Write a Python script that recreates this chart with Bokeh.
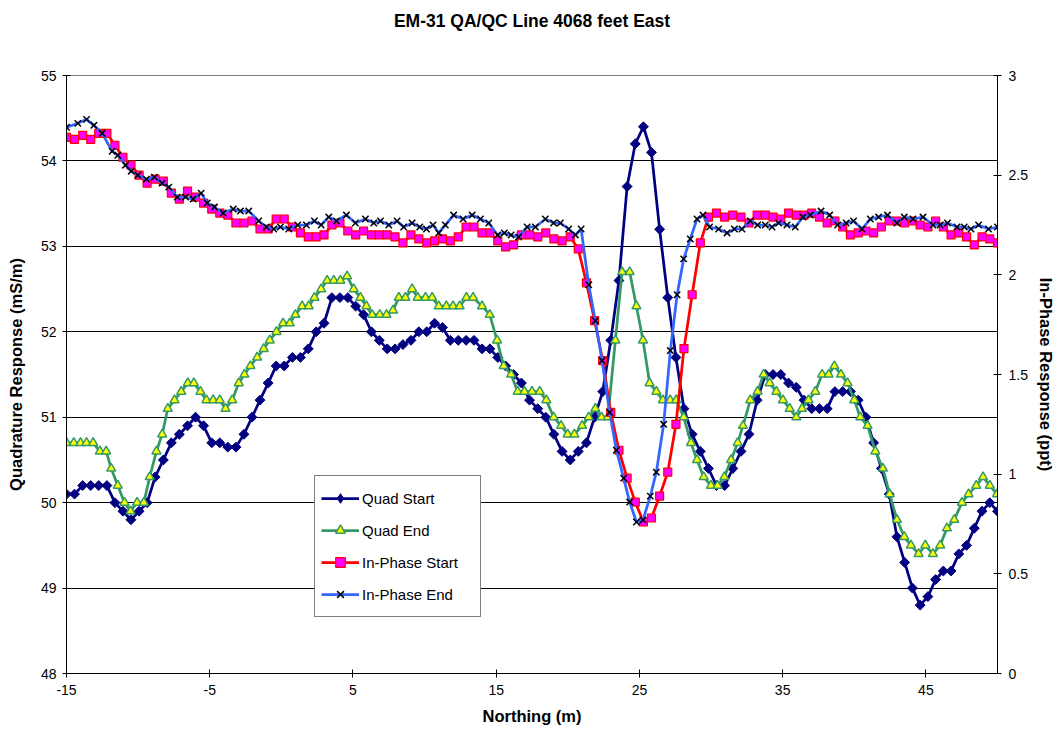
from bokeh.plotting import figure
from bokeh.models import (Range1d, LinearAxis, FixedTicker, NumeralTickFormatter,
                          Legend, LegendItem, Title)
from bokeh.embed import file_html
from bokeh.resources import INLINE
import math

# ---------------- data ----------------
x_start = [-15.00, -14.44, -13.87, -13.31, -12.75, -12.18, -11.62, -11.06, -10.50, -9.93,
           -9.37, -8.81, -8.24, -7.68, -7.12, -6.55, -5.99, -5.43, -4.86, -4.30,
           -3.74, -3.17, -2.61, -2.05, -1.49, -0.92, -0.36, 0.20, 0.77, 1.33,
           1.88, 2.43, 2.98, 3.53, 4.09, 4.64, 5.19, 5.74, 6.29, 6.84,
           7.39, 7.94, 8.49, 9.05, 9.60, 10.15, 10.70, 11.25, 11.80, 12.35,
           12.90, 13.45, 14.01, 14.56, 15.11, 15.66, 16.21, 16.76, 17.33, 17.90,
           18.46, 19.03, 19.60, 20.17, 20.73, 21.30, 21.87, 22.44, 23.00, 23.57,
           24.14, 24.71, 25.28, 25.84, 26.41, 26.98, 27.55, 28.11, 28.68, 29.25,
           29.82, 30.38, 30.95, 31.52, 32.09, 32.65, 33.22, 33.79, 34.33, 34.87,
           35.41, 35.95, 36.49, 37.03, 37.57, 38.11, 38.65, 39.19, 39.73, 40.27,
           40.81, 41.35, 41.89, 42.44, 42.98, 43.52, 44.06, 44.60, 45.14, 45.68,
           46.22, 46.76, 47.30, 47.84, 48.38, 48.92, 49.46, 50.00]

quad_start = [50.1, 50.1, 50.2, 50.2, 50.2, 50.2, 50.0, 49.9, 49.8, 49.9,
              50.0, 50.3, 50.5, 50.7, 50.8, 50.9, 51.0, 50.9, 50.7, 50.7,
              50.65, 50.65, 50.8, 51.0, 51.2, 51.4, 51.6, 51.6, 51.7, 51.7,
              51.8, 52.0, 52.1, 52.4, 52.4, 52.4, 52.3, 52.2, 52.0, 51.9,
              51.8, 51.8, 51.85, 51.9, 52.0, 52.0, 52.1, 52.05, 51.9, 51.9,
              51.9, 51.9, 51.8, 51.8, 51.7, 51.6, 51.5, 51.4, 51.2, 51.1,
              51.0, 50.8, 50.6, 50.5, 50.6, 50.7, 51.0, 51.3, 51.9, 52.6,
              53.7, 54.2, 54.4, 54.1, 53.2, 52.4, 51.7, 51.1, 50.8, 50.6,
              50.4, 50.2, 50.2, 50.4, 50.6, 50.8, 51.2, 51.5, 51.5, 51.5,
              51.4, 51.35, 51.2, 51.1, 51.1, 51.1, 51.3, 51.3, 51.3, 51.2,
              51.0, 50.7, 50.4, 50.1, 49.6, 49.3, 49.0, 48.8, 48.9, 49.1,
              49.2, 49.2, 49.4, 49.5, 49.7, 49.9, 50.0, 49.9]

in_phase_start = [2.69, 2.68, 2.70, 2.68, 2.71, 2.71, 2.65, 2.59, 2.55, 2.50,
                  2.46, 2.48, 2.47, 2.41, 2.38, 2.42, 2.39, 2.36, 2.33, 2.31,
                  2.30, 2.26, 2.26, 2.27, 2.23, 2.23, 2.28, 2.28, 2.24, 2.21,
                  2.19, 2.19, 2.20, 2.25, 2.26, 2.22, 2.20, 2.22, 2.20, 2.20,
                  2.20, 2.19, 2.16, 2.20, 2.18, 2.16, 2.17, 2.18, 2.17, 2.19,
                  2.24, 2.24, 2.21, 2.21, 2.17, 2.14, 2.15, 2.20, 2.20, 2.19,
                  2.21, 2.18, 2.17, 2.19, 2.13, 1.96, 1.77, 1.57, 1.31, 1.12,
                  0.98, 0.86, 0.76, 0.78, 0.89, 1.01, 1.25, 1.63, 1.90, 2.16,
                  2.29, 2.31, 2.29, 2.30, 2.29, 2.26, 2.30, 2.30, 2.29, 2.28,
                  2.31, 2.30, 2.30, 2.31, 2.29, 2.26, 2.27, 2.24, 2.20, 2.21,
                  2.22, 2.21, 2.24, 2.27, 2.27, 2.26, 2.27, 2.25, 2.24, 2.27,
                  2.24, 2.20, 2.21, 2.19, 2.15, 2.19, 2.18, 2.16]

x_quad_end = [-15.00, -14.49, -14.02, -13.60, -13.14, -12.67, -12.23, -11.88, -11.42, -10.95,
              -10.53, -10.07, -9.60, -9.19, -8.72, -8.32, -7.93, -7.46, -6.99, -6.53,
              -6.11, -5.65, -5.23, -4.76, -4.30, -3.90, -3.43, -2.97, -2.58, -2.16,
              -1.69, -1.23, -0.81, -0.34, 0.12, 0.59, 0.98, 1.45, 1.91, 2.31,
              2.78, 3.20, 3.66, 4.12, 4.59, 5.05, 5.52, 5.94, 6.34, 6.87,
              7.34, 7.80, 8.20, 8.66, 9.13, 9.52, 10.06, 10.53, 10.99, 11.52,
              11.99, 12.45, 12.92, 13.39, 14.01, 14.55, 15.06, 15.52, 16.04, 16.50,
              16.97, 17.50, 18.04, 18.50, 19.01, 19.53, 19.99, 20.46, 21.00, 21.46,
              21.92, 22.35, 22.80, 23.32, 23.79, 24.32, 24.79, 25.25, 25.71, 26.18,
              26.64, 27.15, 27.57, 28.09, 28.60, 29.02, 29.49, 30.00, 30.46, 30.93,
              31.40, 31.86, 32.23, 32.74, 33.25, 33.67, 34.09, 34.56, 35.02, 35.49,
              35.95, 36.35, 36.81, 37.28, 37.75, 38.21, 38.61, 39.07, 39.53, 40.00,
              40.42, 40.93, 41.47, 42.00, 42.47, 42.98, 43.49, 43.96, 44.49, 44.96,
              45.49, 46.00, 46.47, 46.98, 47.52, 47.98, 48.52, 48.99, 49.46, 49.97]

quad_end = [50.7, 50.7, 50.7, 50.7, 50.7, 50.6, 50.6, 50.4, 50.2, 50.0,
            49.9, 50.0, 50.0, 50.3, 50.6, 50.8, 51.1, 51.2, 51.3, 51.4,
            51.4, 51.3, 51.2, 51.2, 51.2, 51.1, 51.2, 51.4, 51.5, 51.6,
            51.7, 51.8, 51.9, 52.0, 52.1, 52.1, 52.2, 52.3, 52.3, 52.4,
            52.5, 52.6, 52.6, 52.6, 52.65, 52.5, 52.4, 52.3, 52.2, 52.2,
            52.2, 52.25, 52.4, 52.4, 52.5, 52.4, 52.4, 52.4, 52.3, 52.3,
            52.3, 52.3, 52.4, 52.4, 52.3, 52.2, 51.9, 51.6, 51.5, 51.3,
            51.3, 51.3, 51.3, 51.2, 51.0, 50.9, 50.8, 50.8, 50.9, 51.0,
            51.1, 51.0, 51.0, 51.9, 52.7, 52.7, 52.3, 51.9, 51.4, 51.3,
            51.2, 51.2, 51.2, 51.0, 50.7, 50.5, 50.3, 50.2, 50.2, 50.3,
            50.5, 50.7, 50.9, 51.2, 51.3, 51.5, 51.4, 51.3, 51.2, 51.1,
            51.0, 51.1, 51.2, 51.3, 51.5, 51.5, 51.6, 51.5, 51.4, 51.2,
            51.0, 50.9, 50.6, 50.4, 50.1, 49.8, 49.6, 49.5, 49.4, 49.5,
            49.4, 49.5, 49.7, 49.8, 50.0, 50.1, 50.2, 50.3, 50.2, 50.1]

x_ip_end = [-15.00, -14.21, -13.60, -13.09, -12.51, -11.81, -11.42, -10.88, -10.48, -10.02,
            -9.42, -8.86, -8.32, -7.86, -7.27, -6.69, -6.16, -5.60, -5.18, -4.67,
            -4.06, -3.36, -2.86, -2.28, -1.58, -1.04, -0.53, -0.06, 0.52, 1.14,
            1.75, 2.31, 2.78, 3.31, 3.85, 4.54, 5.17, 5.87, 6.45, 6.92,
            7.50, 8.08, 8.54, 9.13, 9.66, 10.13, 10.59, 10.99, 11.45, 12.03,
            12.69, 13.32, 13.90, 14.48, 15.10, 15.57, 16.04, 16.57, 17.16, 17.74,
            18.43, 19.01, 19.48, 20.06, 20.53, 20.93, 21.46, 21.92, 22.39, 22.92,
            23.39, 23.90, 24.32, 24.79, 25.25, 25.76, 26.18, 26.69, 27.16, 27.63,
            28.09, 28.55, 29.02, 29.44, 29.90, 30.53, 31.12, 31.63, 32.16, 32.74,
            33.25, 33.79, 34.26, 34.72, 35.30, 35.88, 36.42, 36.93, 37.68, 38.28,
            38.84, 39.44, 39.95, 40.54, 41.12, 41.70, 42.32, 42.98, 43.49, 44.10,
            44.80, 45.49, 46.00, 46.51, 47.17, 47.68, 48.15, 48.68, 49.37, 50.00]

in_phase_end = [2.74, 2.76, 2.78, 2.75, 2.71, 2.62, 2.60, 2.55, 2.52, 2.50,
                2.48, 2.49, 2.46, 2.44, 2.39, 2.39, 2.38, 2.41, 2.36, 2.34,
                2.31, 2.33, 2.32, 2.32, 2.27, 2.24, 2.23, 2.24, 2.23, 2.25,
                2.25, 2.27, 2.25, 2.29, 2.27, 2.30, 2.26, 2.28, 2.26, 2.27,
                2.25, 2.27, 2.24, 2.26, 2.24, 2.23, 2.25, 2.21, 2.25, 2.30,
                2.28, 2.30, 2.28, 2.26, 2.20, 2.21, 2.20, 2.19, 2.24, 2.24,
                2.28, 2.26, 2.26, 2.23, 2.20, 2.23, 1.95, 1.77, 1.57, 1.31,
                1.12, 0.98, 0.86, 0.76, 0.77, 0.89, 1.01, 1.25, 1.62, 1.90,
                2.08, 2.18, 2.28, 2.30, 2.24, 2.23, 2.21, 2.23, 2.23, 2.27,
                2.25, 2.25, 2.24, 2.26, 2.25, 2.24, 2.29, 2.30, 2.32, 2.30,
                2.25, 2.26, 2.27, 2.23, 2.28, 2.29, 2.30, 2.26, 2.29, 2.28,
                2.29, 2.25, 2.25, 2.26, 2.24, 2.24, 2.23, 2.25, 2.23, 2.24]

x_ticks = [-15, -5, 5, 15, 25, 35, 45]
left_ticks = [48, 49, 50, 51, 52, 53, 54, 55]
right_ticks = [0, 0.5, 1, 1.5, 2, 2.5, 3]

TITLE = "EM-31 QA/QC Line 4068 feet East"
FONT = "Liberation Sans"

# ---------------- figure ----------------
FW, FH = 931, 598
p = figure(frame_width=FW, frame_height=FH, title=None,
           min_border_left=66, min_border_right=60, min_border_top=75, min_border_bottom=59,
           x_range=Range1d(-15, 50), y_range=Range1d(48, 55),
           output_backend="svg", toolbar_location=None)
p.background_fill_color = "white"
p.border_fill_color = "white"
p.outline_line_color = "#808080"

# spacer title (closest to the frame), then the real title above it
p.add_layout(Title(text=" ", text_font=FONT, text_font_size="34px", standoff=0), "above")
p.add_layout(Title(text=TITLE, align="center", text_font=FONT, text_font_size="17.5px",
                   text_font_style="bold", text_color="black", standoff=10), "above")

p.extra_y_ranges = {"ip": Range1d(0, 3)}
right_axis = LinearAxis(y_range_name="ip", ticker=FixedTicker(ticks=right_ticks),
                        formatter=NumeralTickFormatter(format="0.[0]"),
                        axis_label="In-Phase Response (ppt)")
p.add_layout(right_axis, "right")

p.xaxis.ticker = FixedTicker(ticks=x_ticks)
p.xaxis.major_label_overrides = {t: str(t) for t in x_ticks}
p.xaxis.axis_label = "Northing (m)"
p.yaxis[0].ticker = FixedTicker(ticks=left_ticks)
p.yaxis[0].axis_label = "Quadrature Response (mS/m)"

for ax in [p.xaxis[0], p.yaxis[0], right_axis]:
    ax.axis_line_color = "black"
    ax.axis_line_width = 1
    ax.major_tick_line_color = "black"
    ax.major_tick_in = 4
    ax.major_tick_out = 4
    ax.minor_tick_line_color = None
    ax.major_label_text_font = FONT
    ax.major_label_text_font_size = "14px"
    ax.major_label_text_color = "black"
    ax.axis_label_text_font = FONT
    ax.axis_label_text_font_size = "16.5px"
    ax.axis_label_text_font_style = "bold"
    ax.axis_label_text_color = "black"
    ax.major_label_standoff = 6

p.xaxis.major_label_standoff = 7
p.xaxis.axis_label_standoff = 9
p.yaxis[0].axis_label_standoff = 13
right_axis.major_label_standoff = 7
right_axis.axis_label_standoff = 6

p.xgrid.visible = False
p.ygrid.ticker = FixedTicker(ticks=[49, 50, 51, 52, 53, 54])
p.ygrid.grid_line_color = "black"
p.ygrid.grid_line_width = 1

# ---------------- series ----------------
LW = 2.75
l1 = p.line(x_start, quad_start, line_color="#000080", line_width=LW)
s1 = p.scatter(x_start, quad_start, marker="square", angle=math.pi / 4, size=7,
               fill_color="#000080", line_color="#000080")
# legend key for Quad Start: a small diamond hidden under the first rotated square
s1_key = p.scatter(x_start[:1], quad_start[:1], marker="diamond", size=6,
                   fill_color="#000080", line_color="#000080")

l2 = p.line(x_quad_end, quad_end, line_color="#339966", line_width=LW)
s2 = p.scatter(x_quad_end, quad_end, marker="triangle", size=9,
               fill_color="#FFFF00", line_color="#339966", line_width=1.5)

l3 = p.line(x_start, in_phase_start, line_color="#FF0000", line_width=LW, y_range_name="ip")
s3 = p.scatter(x_start, in_phase_start, marker="square", size=8, y_range_name="ip",
               fill_color="#FF00FF", line_color="#FF0000", line_width=1.2)

l4 = p.line(x_ip_end, in_phase_end, line_color="#3366FF", line_width=LW, y_range_name="ip")
s4 = p.scatter(x_ip_end, in_phase_end, marker="x", size=9, y_range_name="ip",
               line_color="black", line_width=1.5)

lg = Legend(items=[LegendItem(label="Quad Start", renderers=[l1, s1_key]),
                   LegendItem(label="Quad End", renderers=[l2, s2]),
                   LegendItem(label="In-Phase Start", renderers=[l3, s3]),
                   LegendItem(label="In-Phase End", renderers=[l4, s4])],
            location=(248, 56))
lg.border_line_color = "black"
lg.border_line_width = 1
lg.background_fill_color = "white"
lg.background_fill_alpha = 1
lg.padding = 6
lg.spacing = 0
lg.margin = 0
lg.label_height = 32
lg.glyph_height = 24
lg.glyph_width = 38
lg.label_width = 112
lg.label_standoff = 3
lg.label_text_font = FONT
lg.label_text_font_size = "15px"
lg.label_text_color = "black"
p.add_layout(lg)

open("out.html", "w").write(file_html(p, INLINE))
